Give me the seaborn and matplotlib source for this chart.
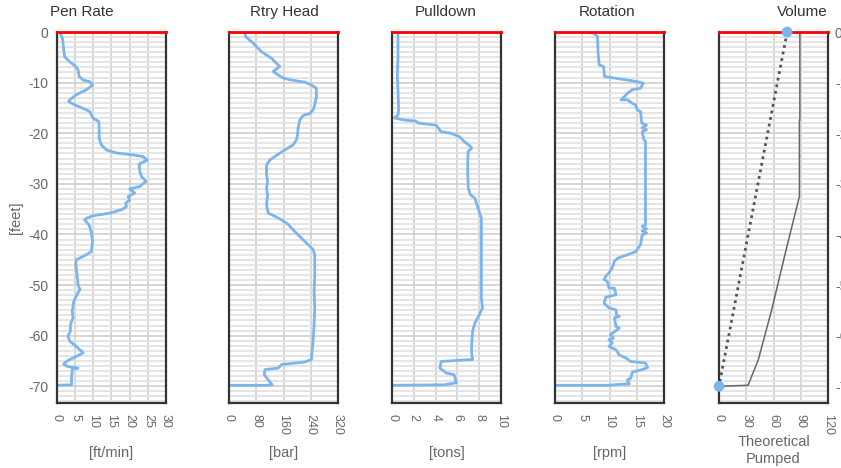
import matplotlib
matplotlib.use("Agg")
import matplotlib.pyplot as plt
import seaborn as sns
import numpy as np

sns.set_theme(style="white")
plt.rcParams['font.family'] = ['Liberation Sans', 'DejaVu Sans']

# ---------------- data ----------------
titles = ["Pen Rate", "Rtry Head", "Pulldown", "Rotation", "Volume"]
units = ["[ft/min]", "[bar]", "[tons]", "[rpm]", "Theoretical\nPumped"]
x_ticks = [[0, 5, 10, 15, 20, 25, 30],
           [0, 80, 160, 240, 320],
           [0, 2, 4, 6, 8, 10],
           [0, 5, 10, 15, 20],
           [0, 30, 60, 90, 120]]
depth_ticks = [0, -10, -20, -30, -40, -50, -60, -70]

pen_rate = [0.7, 1.5, 1.8, 2.1, 3.5, 5.2, 5.8, 6.1, 7.2, 9.0, 9.8, 8.1, 5.3, 3.5, 3.2, 4.9, 7.2, 9.0,
            9.9, 11.5, 11.6, 11.6, 12.2, 13.6, 16.4, 21.0, 23.7, 24.8, 22.6, 22.8, 23.3, 24.5, 22.8,
            20.0, 21.4, 19.6, 20.0, 18.9, 19.1, 17.8, 14.5, 9.9, 8.1, 7.6, 8.8, 9.4, 9.8, 9.4, 8.1,
            5.3, 5.2, 5.5, 5.8, 6.3, 5.5, 4.6, 4.2, 4.4, 3.7, 3.7, 3.0, 3.5, 5.3, 7.2, 5.3, 3.0, 1.8,
            3.0, 5.8, 4.2, 4.0, 4.0, 0.3, 0.0]
pen_depth = [0, -1.25, -3.2, -4.9, -5.9, -6.8, -7.5, -8.8, -9.5, -9.8, -10.5, -11.4, -12.4, -13.4,
             -13.75, -14.4, -15.1, -15.7, -17.0, -17.7, -19.0, -21.0, -22.3, -23.3, -23.9, -24.3,
             -24.6, -25.3, -26.1, -27.6, -28.6, -29.5, -30.5, -31.0, -31.8, -32.5, -33.2, -33.8,
             -34.5, -35.1, -35.8, -36.3, -36.8, -37.1, -38.1, -39.4, -41.4, -43.4, -44.0, -45.0,
             -46.0, -48.0, -49.9, -50.9, -51.9, -53.2, -55.2, -56.5, -57.8, -59.1, -60.1, -61.1,
             -62.1, -63.4, -64.1, -64.9, -65.6, -66.1, -66.4, -66.7, -68.4, -69.7, -69.8, -69.8]

rtry_head = [46.8, 48.8, 71, 95.6, 125, 139.5, 149, 139.5, 129.8, 142.4, 159, 183.4, 222.4, 242,
             256.6, 256.6, 251.7, 246.8, 237, 217.6, 207.8, 202.9, 201, 198, 188.3, 159, 134.6, 120,
             110.2, 110.2, 113.2, 110.2, 113.2, 110.2, 115, 134.6, 154, 173.7, 188.3, 207.8, 232.2,
             246.8, 251.7, 251.7, 249.8, 251.7, 249.8, 246.8, 244, 242, 222.4, 154.1, 144.4, 105.4,
             103.4, 115, 126.8, 110, 0]
rtry_depth = [0, -0.9, -2.2, -3.9, -5.2, -6.2, -6.8, -7.3, -7.8, -8.4, -9.1, -9.5, -9.9, -10.5,
              -11.1, -12.8, -14.4, -15.4, -16.1, -16.5, -17.4, -19.0, -20.3, -21.3, -22.3, -23.5,
              -24.6, -25.3, -26.3, -28.2, -29.5, -30.9, -32.2, -34.1, -35.8, -36.4, -37.1, -38.0,
              -39.1, -40.4, -42.0, -43.0, -44.0, -48.0, -51.3, -54.6, -57.8, -61.1, -63.1, -64.7,
              -65.2, -65.7, -66.4, -66.7, -67.7, -68.7, -69.7, -69.8, -69.8]

pulldown = [0.55, 0.55, 0.49, 0.55, 0.61, 0.55, 0.24, 1.16, 2.2, 2.4, 4.05, 4.5, 5.4, 6.2, 6.6, 7.2,
            7.3, 7.0, 6.95, 6.95, 7.0, 7.2, 7.6, 8.0, 8.2, 8.2, 8.2, 8.2, 8.2, 8.3, 8.0, 7.6, 7.4,
            7.3, 7.3, 7.4, 5.9, 4.5, 4.4, 5.0, 5.7, 5.9, 4.8, 0.1]
pull_depth = [0, -5.2, -8.5, -11.8, -15.1, -16.4, -17.0, -17.4, -17.6, -18.0, -18.4, -19.7, -20.0,
              -20.7, -21.6, -22.6, -23.0, -23.6, -24.9, -28.2, -30.9, -32.2, -32.8, -35.5, -36.8,
              -41.4, -44.7, -48.6, -52.6, -54.5, -55.9, -57.5, -59.1, -61.8, -63.4, -64.7, -64.9,
              -65.1, -66.4, -67.4, -67.7, -69.3, -69.7, -69.8]

rotation = [6.0, 7.2, 7.8, 7.9, 8.1, 8.9, 9.1, 10.9, 14.5, 16.2, 15.7, 14.2, 13.3, 12.7, 12.1, 13.3,
            14.2, 14.8, 15.1, 15.7, 15.9, 16.8, 16.0, 16.8, 16.0, 16.3, 16.6, 16.6, 16.6, 16.0, 16.8,
            16.0, 16.8, 16.0, 15.7, 14.8, 13.3, 11.5, 10.9, 10.5, 9.9, 9.3, 9.0, 9.6, 9.9, 10.9,
            11.2, 9.3, 9.0, 9.9, 11.2, 11.3, 11.8, 10.9, 11.2, 11.8, 11.2, 10.2, 10.7, 9.9, 10.5,
            9.9, 11.2, 11.8, 13.0, 13.9, 16.6, 17.0, 16.0, 14.2, 13.9, 13.3, 13.6, 9.6, 0]
rot_depth = [0, -0.3, -0.9, -3.9, -6.5, -6.8, -8.8, -9.1, -9.7, -10.1, -11.1, -11.4, -12.1, -12.8,
             -13.4, -13.4, -14.1, -14.4, -15.4, -15.7, -18.0, -18.4, -18.9, -19.3, -19.7, -21.3,
             -21.6, -28.2, -38.1, -38.4, -38.9, -39.3, -39.7, -40.1, -42.0, -43.4, -44.0, -44.7,
             -45.3, -46.6, -47.6, -48.3, -48.9, -49.3, -50.6, -50.6, -51.9, -52.4, -53.6, -54.5,
             -54.9, -56.0, -56.2, -56.5, -58.2, -58.5, -59.0, -59.8, -60.5, -60.8, -61.4, -62.1,
             -62.8, -63.8, -64.4, -65.1, -65.4, -66.3, -66.7, -67.2, -68.4, -68.7, -69.5, -69.8,
             -69.8]

theoretical = [75, 0]
theo_depth = [0, -70]
pumped = [89, 89, 88.5, 88.5, 73.8, 58, 43.2, 32, 0]
pump_depth = [0, -17.2, -17.6, -32.5, -43.1, -54.9, -64.8, -69.8, -70]

series = [(pen_rate, pen_depth), (rtry_head, rtry_depth), (pulldown, pull_depth),
          (rotation, rot_depth)]

# ---------------- figure ----------------
W, H = 841, 468
fig = plt.figure(figsize=(W / 100, H / 100), dpi=100)

lefts = [57, 229, 392, 555, 719]
pw = 109
top_px, bot_px = 32, 403
title_x = [82, 284, 446, 607, 802]

line_color = "#7cb5ec"
label_color = "#666666"
axes = []
for i, left in enumerate(lefts):
    ax = fig.add_axes([left / W, (H - bot_px) / H, pw / W, (bot_px - top_px) / H])
    axes.append(ax)
    ax.set_facecolor("white")
    ax.set_ylim(-73.3, 0)
    ax.set_xlim(x_ticks[i][0], x_ticks[i][-1])
    ax.set_xticks(x_ticks[i])
    ax.set_xticklabels([str(t) for t in x_ticks[i]], rotation=-90, fontsize=9, color=label_color)
    ax.set_yticks(depth_ticks)
    ax.set_yticks(np.arange(-73, 1, 1), minor=True)
    ax.grid(which="minor", axis="y", color="#e0e0e0", lw=1.2)
    ax.grid(which="major", axis="y", color="#cfcfcf", lw=1.2)
    ax.grid(which="major", axis="x", color="#d6d6d6", lw=1.4)
    ax.set_axisbelow(True)
    ax.tick_params(axis="x", which="major", length=5, width=1, color="#ccd6eb", direction="out", pad=3)
    ax.tick_params(axis="y", which="both", length=0)
    for s in ["left", "right", "bottom"]:
        ax.spines[s].set_color("#333333")
        ax.spines[s].set_linewidth(1.6)
        ax.spines[s].set_visible(True)
    ax.spines["top"].set_visible(True)
    ax.spines["top"].set_color("#ff0000")
    ax.spines["top"].set_linewidth(2)
    ax.spines["top"].set_zorder(5)

    if i == 0:
        ax.set_yticklabels([str(t) for t in depth_ticks], fontsize=10, color=label_color)
        ax.tick_params(axis="y", pad=6)
        ax.set_ylabel("[feet]", fontsize=10.5, color=label_color, labelpad=4)
    elif i == 4:
        ax.yaxis.tick_right()
        ax.set_yticklabels([str(t) for t in depth_ticks], fontsize=10, color=label_color)
        ax.tick_params(axis="y", pad=5)
    else:
        ax.set_yticklabels([])

    if i < 4:
        xs, ys = series[i]
        sns.lineplot(x=xs, y=ys, sort=False, estimator=None, ax=ax, color=line_color, lw=2)
    else:
        sns.lineplot(x=pumped, y=pump_depth, sort=False, estimator=None, ax=ax,
                     color="#666666", lw=1.1)
        sns.lineplot(x=theoretical, y=theo_depth, sort=False, estimator=None, ax=ax,
                     color="#555555", lw=2, linestyle=(0, (1, 1.4)))
        sns.scatterplot(x=theoretical, y=theo_depth, ax=ax, color=line_color, s=60,
                        edgecolor="none", zorder=6, clip_on=False)

    ax.set_xlabel(units[i], fontsize=10.5, color=label_color, linespacing=1.2)
    ax.xaxis.label.set_va("center")
    if i == 4:
        ax.xaxis.set_label_coords(0.5, (bot_px - 450.5) / (bot_px - top_px))
    else:
        ax.xaxis.set_label_coords(0.5, (bot_px - 453) / (bot_px - top_px))

    fig.text(title_x[i] / W, 1 - 12 / H, titles[i], ha="center", va="center",
             fontsize=11, color="#333333")

fig.savefig("out.png", dpi=100)
